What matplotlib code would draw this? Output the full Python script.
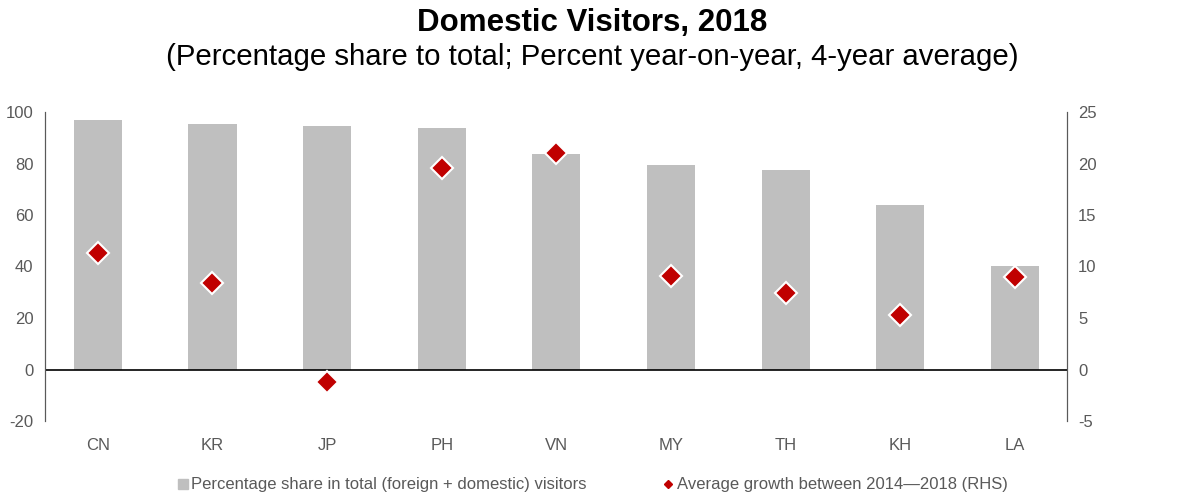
import numpy as np
import matplotlib.pyplot as plt
from matplotlib.lines import Line2D

plt.rcParams['font.family'] = ['Liberation Sans', 'DejaVu Sans']
plt.rcParams['axes.unicode_minus'] = False

# Daten
countries = ["CN", "KR", "JP", "PH", "VN", "MY", "TH", "KH", "LA"]
share = [97.0, 95.2, 94.5, 93.8, 83.7, 79.6, 77.3, 63.8, 40.2]
growth = [11.3, 8.4, -1.2, 19.6, 21.0, 9.1, 7.4, 5.3, 9.0]

grey_txt = "#595959"

fig = plt.figure(figsize=(11.84, 5.01), dpi=100)
ax = fig.add_axes([44.5 / 1184, 1 - 421 / 501, (1067 - 44.5) / 1184, (421 - 112) / 501])
ax2 = ax.twinx()

x = np.arange(len(countries))
ax.bar(x, share, width=0.42, color="#BFBFBF", zorder=2)
ax.axhline(0, color="black", lw=1.2, zorder=3)
ax.set_ylim(-20, 100)
ax.set_xlim(-0.465, len(countries) - 0.545)
ax.set_yticks(np.arange(-20, 101, 20))
ax.set_xticks(x)
ax.set_xticklabels(countries)

ax2.plot(x, growth, linestyle="none", marker="D", markersize=11,
         markerfacecolor="#C00000", markeredgecolor="white", markeredgewidth=1.5, zorder=4)
ax2.set_ylim(-5, 25)
ax2.set_yticks(np.arange(-5, 26, 5))

for a in (ax, ax2):
    a.spines["top"].set_visible(False)
    a.spines["bottom"].set_visible(False)
    a.spines["left"].set_color(grey_txt)
    a.spines["right"].set_color(grey_txt)
    a.tick_params(length=0, labelsize=12, colors=grey_txt, pad=8)
ax.tick_params(axis="x", pad=12)

fig.text(0.5, 0.985, "Domestic Visitors, 2018", ha="center", va="top",
         fontsize=22.5, fontweight="bold")
fig.text(0.5, 0.915, "(Percentage share to total; Percent year-on-year, 4-year average)",
         ha="center", va="top", fontsize=21.2)

handles = [
    Line2D([], [], linestyle="none", marker="s", markersize=7, color="#BFBFBF"),
    Line2D([], [], linestyle="none", marker="D", markersize=4, color="#C00000"),
]
labels = ["Percentage share in total (foreign + domestic) visitors",
          "Average growth between 2014\u20142018 (RHS)"]
fig.legend(handles, labels, loc="center", bbox_to_anchor=(0.5, 1 - 485 / 501), ncol=2,
           frameon=False, fontsize=12, labelcolor=grey_txt, handletextpad=0.1,
           columnspacing=4.5, handlelength=0.8)

fig.savefig("out.png", dpi=100)
